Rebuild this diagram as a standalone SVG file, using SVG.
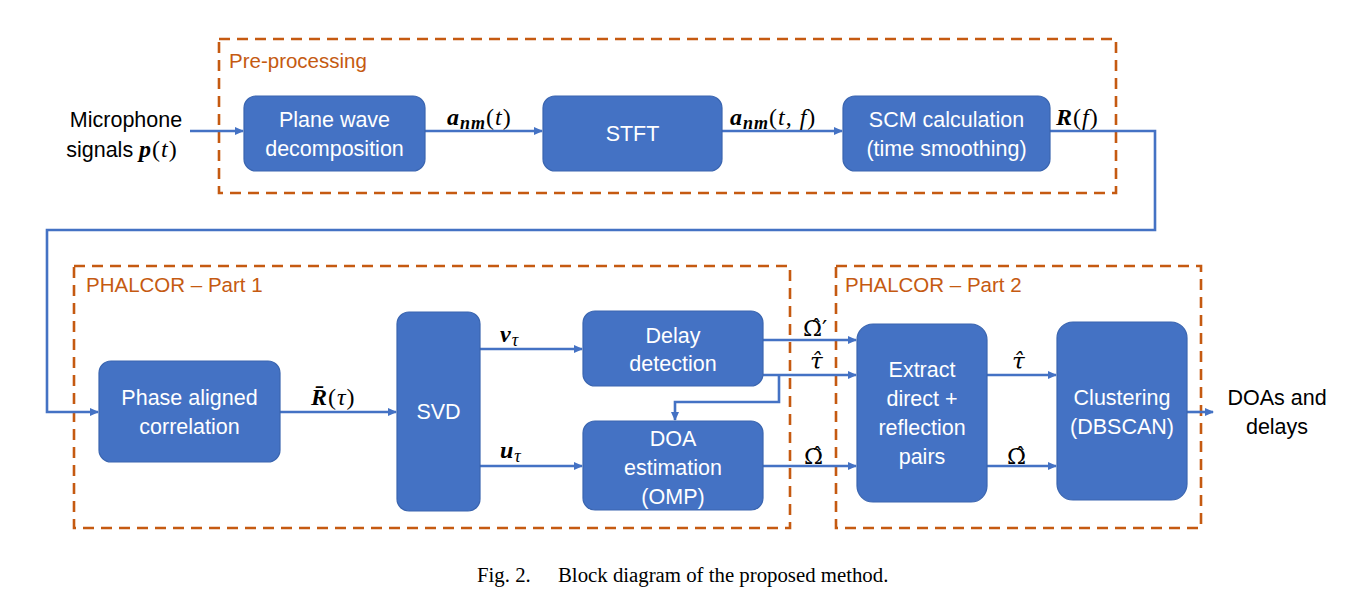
<svg xmlns="http://www.w3.org/2000/svg" width="1353" height="608" viewBox="0 0 1353 608">
<style>
.box{fill:#4472C4;stroke:#3A65B0;stroke-width:1.2}
.bt{font-family:"Liberation Sans",Arial,sans-serif;font-size:21.5px;fill:#fff;text-anchor:middle}
.lt{font-family:"Liberation Sans",Arial,sans-serif;font-size:21.5px;fill:#000;text-anchor:middle}
.grp{fill:none;stroke:#C55A11;stroke-width:2.6;stroke-dasharray:11 7}
.gl{font-family:"Liberation Sans",Arial,sans-serif;font-size:20.5px;fill:#C55A11}
.c{fill:none;stroke:#4472C4;stroke-width:2.6}
.m{font-family:"Liberation Serif","Times New Roman",serif;font-size:24px;fill:#000;letter-spacing:1px}
.h{font-family:"DejaVu Serif",serif;font-size:23px;fill:#000}
.mb{font-weight:bold;font-style:italic}
.mi{font-style:italic}
.cap{font-family:"Liberation Serif","Times New Roman",serif;font-size:20.8px;fill:#000}
</style>
<defs>
<marker id="ah" markerWidth="10" markerHeight="10" refX="8" refY="5" orient="auto" markerUnits="userSpaceOnUse">
<path d="M0,1 L9,5 L0,9 Z" fill="#4472C4"/>
</marker>
</defs>
<rect width="1353" height="608" fill="#fff"/>

<g id="groups">
<rect class="grp" x="219" y="39" width="897" height="154"/>
<text class="gl" x="229" y="68" font-size="21.5">Pre-processing</text>
<rect class="grp" x="74" y="266" width="716" height="262"/>
<text class="gl" x="86" y="292">PHALCOR – Part 1</text>
<rect class="grp" x="836" y="266" width="365" height="262"/>
<text class="gl" x="845" y="292">PHALCOR – Part 2</text>
</g>

<g id="connectors">
<line class="c" x1="190" y1="131" x2="243" y2="131" marker-end="url(#ah)"/>
<line class="c" x1="425" y1="131" x2="542" y2="131" marker-end="url(#ah)"/>
<line class="c" x1="722" y1="131" x2="842" y2="131" marker-end="url(#ah)"/>
<polyline class="c" points="1050,131 1155,131 1155,230 47,230 47,412 98,412" marker-end="url(#ah)"/>
<line class="c" x1="280" y1="412" x2="396" y2="412" marker-end="url(#ah)"/>
<line class="c" x1="480" y1="349" x2="582" y2="349" marker-end="url(#ah)"/>
<line class="c" x1="480" y1="466" x2="582" y2="466" marker-end="url(#ah)"/>
<line class="c" x1="763" y1="340" x2="856" y2="340" marker-end="url(#ah)"/>
<line class="c" x1="763" y1="375" x2="856" y2="375" marker-end="url(#ah)"/>
<polyline class="c" points="779,375 779,402 675,402 675,420" marker-end="url(#ah)"/>
<line class="c" x1="763" y1="466" x2="856" y2="466" marker-end="url(#ah)"/>
<line class="c" x1="987" y1="375" x2="1056" y2="375" marker-end="url(#ah)"/>
<line class="c" x1="987" y1="466" x2="1056" y2="466" marker-end="url(#ah)"/>
<line class="c" x1="1187" y1="412" x2="1213" y2="412" marker-end="url(#ah)"/>
</g>

<g id="input">
<text class="lt" x="126" y="127">Microphone</text>
<text class="lt" x="122" y="157">signals <tspan class="m mb">p</tspan><tspan class="m">(</tspan><tspan class="m mi">t</tspan><tspan class="m">)</tspan></text>
</g>

<g id="pwd">
<rect class="box" x="244" y="96" width="181" height="75" rx="12"/>
<text class="bt" x="334.5" y="127">Plane wave</text>
<text class="bt" x="334.5" y="156">decomposition</text>
</g>
<g id="stft">
<rect class="box" x="543" y="96" width="179" height="75" rx="12"/>
<text class="bt" x="632.5" y="141">STFT</text>
</g>
<g id="scm">
<rect class="box" x="843" y="96" width="207" height="75" rx="12"/>
<text class="bt" x="946.5" y="127">SCM calculation</text>
<text class="bt" x="946.5" y="156">(time smoothing)</text>
</g>
<g id="pac">
<rect class="box" x="99" y="361" width="181" height="101" rx="12"/>
<text class="bt" x="189.5" y="405">Phase aligned</text>
<text class="bt" x="189.5" y="434">correlation</text>
</g>
<g id="svd">
<rect class="box" x="397" y="312" width="83" height="199" rx="12"/>
<text class="bt" x="438.5" y="419">SVD</text>
</g>
<g id="delay">
<rect class="box" x="583" y="311" width="180" height="75" rx="12"/>
<text class="bt" x="673" y="343">Delay</text>
<text class="bt" x="673" y="371">detection</text>
</g>
<g id="doa">
<rect class="box" x="583" y="421" width="180" height="89" rx="12"/>
<text class="bt" x="673" y="446">DOA</text>
<text class="bt" x="673" y="475">estimation</text>
<text class="bt" x="673" y="504">(OMP)</text>
</g>
<g id="extract">
<rect class="box" x="857" y="324" width="130" height="178" rx="16"/>
<text class="bt" x="922" y="377">Extract</text>
<text class="bt" x="922" y="406">direct +</text>
<text class="bt" x="922" y="435">reflection</text>
<text class="bt" x="922" y="464">pairs</text>
</g>
<g id="clustering">
<rect class="box" x="1057" y="322" width="130" height="178" rx="16"/>
<text class="bt" x="1122" y="405">Clustering</text>
<text class="bt" x="1122" y="434">(DBSCAN)</text>
</g>
<g id="output">
<text class="lt" x="1277" y="405">DOAs and</text>
<text class="lt" x="1277" y="434">delays</text>
</g>

<g id="labels">
<text class="m" x="447" y="125"><tspan class="mb">a</tspan><tspan class="mb" font-size="18" dy="4">nm</tspan><tspan dy="-4">(</tspan><tspan class="mi">t</tspan>)</text>
<text class="m" x="730" y="125"><tspan class="mb">a</tspan><tspan class="mb" font-size="18" dy="4">nm</tspan><tspan dy="-4">(</tspan><tspan class="mi">t</tspan>, <tspan class="mi">f</tspan>)</text>
<text class="m" x="1056" y="125"><tspan class="mb">R</tspan>(<tspan class="mi">f</tspan>)</text>
<text class="m" x="311" y="405"><tspan class="mb">R̄</tspan>(<tspan class="mi">τ</tspan>)</text>
<text class="m" x="500" y="342"><tspan class="mb">v</tspan><tspan class="mi" font-size="18" dy="4">τ</tspan></text>
<text class="m" x="500" y="458"><tspan class="mb">u</tspan><tspan class="mi" font-size="18" dy="4">τ</tspan></text>
<text class="h" x="803" y="336">Ω̂′</text>
<text class="h mi" x="810" y="369">τ̂</text>
<text class="h" x="804" y="464">Ω̂</text>
<text class="h mi" x="1012" y="369">τ̂</text>
<text class="h" x="1007" y="464">Ω̂</text>
</g>

<text class="cap" x="477" y="582">Fig. 2.<tspan x="558">Block diagram of the proposed method.</tspan></text>
</svg>
